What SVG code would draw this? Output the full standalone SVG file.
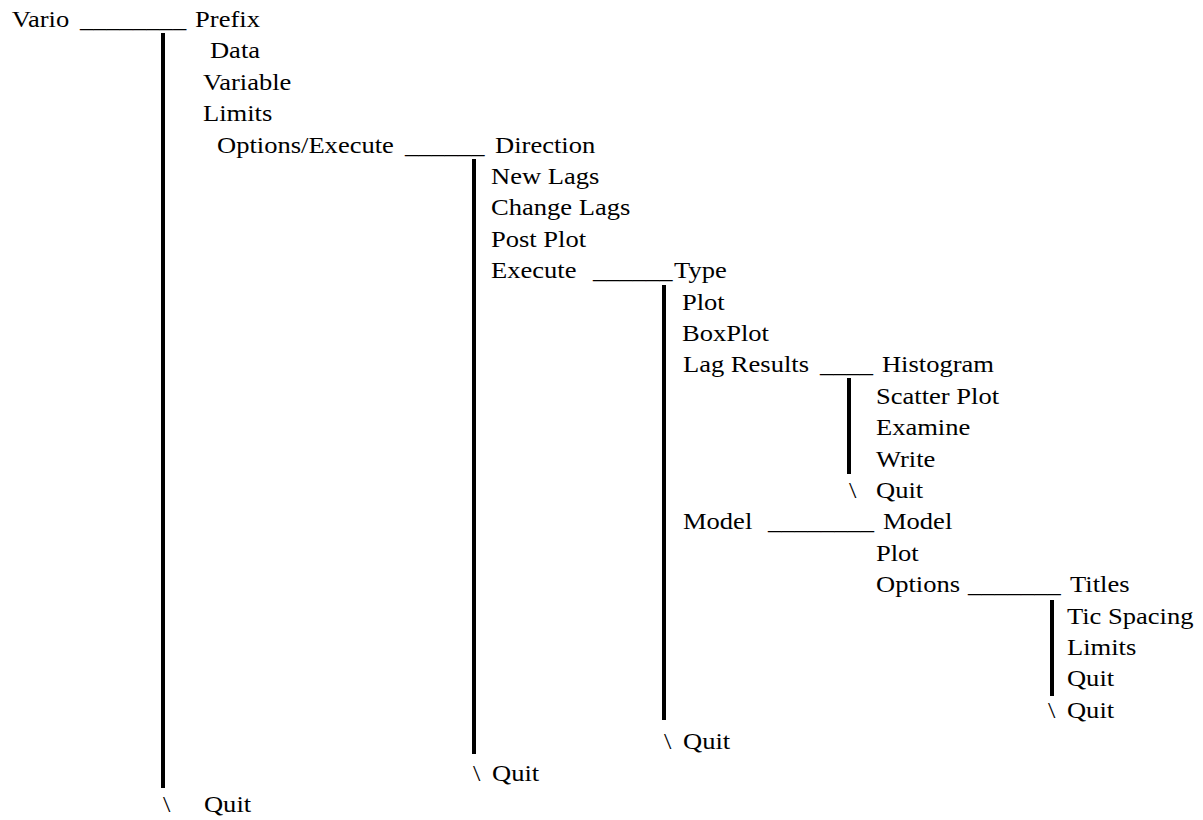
<svg xmlns="http://www.w3.org/2000/svg" width="1203" height="820" viewBox="0 0 1203 820" font-family="Liberation Serif, Times New Roman, serif">
<style>
text{font-family:'Liberation Serif','Times New Roman',serif;font-size:23.5px;fill:#000}
.v{stroke:#000;stroke-width:4;fill:none}
</style>
<rect width="1203" height="820" fill="#fff"/>
<g id="connectors">
<line class="v" x1="163" y1="33" x2="163" y2="788"/>
<line class="v" x1="474" y1="159" x2="474" y2="754"/>
<line class="v" x1="664" y1="285" x2="664" y2="720"/>
<line class="v" x1="849" y1="378" x2="849" y2="474"/>
<line class="v" x1="1052" y1="600" x2="1052" y2="696"/>
<g transform="scale(1.13 1)" font-family="Liberation Serif, serif">
<text x="70.8" y="27">________</text>
<text x="358.4" y="152.6">______</text>
<text x="524.8" y="278.2">______</text>
<text x="725.7" y="372.4">____</text>
<text x="679.6" y="529.4">________</text>
<text x="856.6" y="592.2">_______</text>
<text x="751.3" y="498">\</text>
<text x="927.4" y="717.8">\</text>
<text x="587.6" y="749.2">\</text>
<text x="418.6" y="780.6">\</text>
<text x="144.2" y="812">\</text>
</g>
</g>
<g transform="scale(1.13 1)" font-family="Liberation Serif, serif">
<g id="vario"><text x="10.35" y="27">Vario</text></g>
<g id="prefix"><text x="172.6" y="27">Prefix</text></g>
<g id="data"><text x="185.8" y="58.4">Data</text></g>
<g id="variable"><text x="179.6" y="89.8">Variable</text></g>
<g id="limits1"><text x="179.6" y="121.2">Limits</text></g>
<g id="options-execute"><text x="192" y="152.6">Options/Execute</text></g>
<g id="direction"><text x="438.1" y="152.6">Direction</text></g>
<g id="new-lags"><text x="434.5" y="184">New Lags</text></g>
<g id="change-lags"><text x="434.5" y="215.4">Change Lags</text></g>
<g id="post-plot"><text x="434.5" y="246.8">Post Plot</text></g>
<g id="execute"><text x="434.5" y="278.2">Execute</text></g>
<g id="type"><text x="596.5" y="278.2">Type</text></g>
<g id="plot1"><text x="603.5" y="309.6">Plot</text></g>
<g id="boxplot"><text x="603.5" y="341">BoxPlot</text></g>
<g id="lag-results"><text x="604.4" y="372.4">Lag Results</text></g>
<g id="histogram"><text x="780.5" y="372.4">Histogram</text></g>
<g id="scatter-plot"><text x="775.2" y="403.8">Scatter Plot</text></g>
<g id="examine"><text x="775.2" y="435.2">Examine</text></g>
<g id="write"><text x="775.2" y="466.6">Write</text></g>
<g id="quit-lag"><text x="775.2" y="498">Quit</text></g>
<g id="model1"><text x="604.4" y="529.4">Model</text></g>
<g id="model2"><text x="781.4" y="529.4">Model</text></g>
<g id="plot2"><text x="775.2" y="560.8">Plot</text></g>
<g id="options2"><text x="775.2" y="592.2">Options</text></g>
<g id="titles"><text x="946.9" y="592.2">Titles</text></g>
<g id="tic-spacing"><text x="944.2" y="623.6">Tic Spacing</text></g>
<g id="limits2"><text x="944.2" y="655">Limits</text></g>
<g id="quit-opt1"><text x="944.2" y="686.4">Quit</text></g>
<g id="quit-opt2"><text x="944.2" y="717.8">Quit</text></g>
<g id="quit-type"><text x="604.4" y="749.2">Quit</text></g>
<g id="quit-dir"><text x="435.4" y="780.6">Quit</text></g>
<g id="quit-vario"><text x="180.5" y="812">Quit</text></g>
</g>
</svg>
